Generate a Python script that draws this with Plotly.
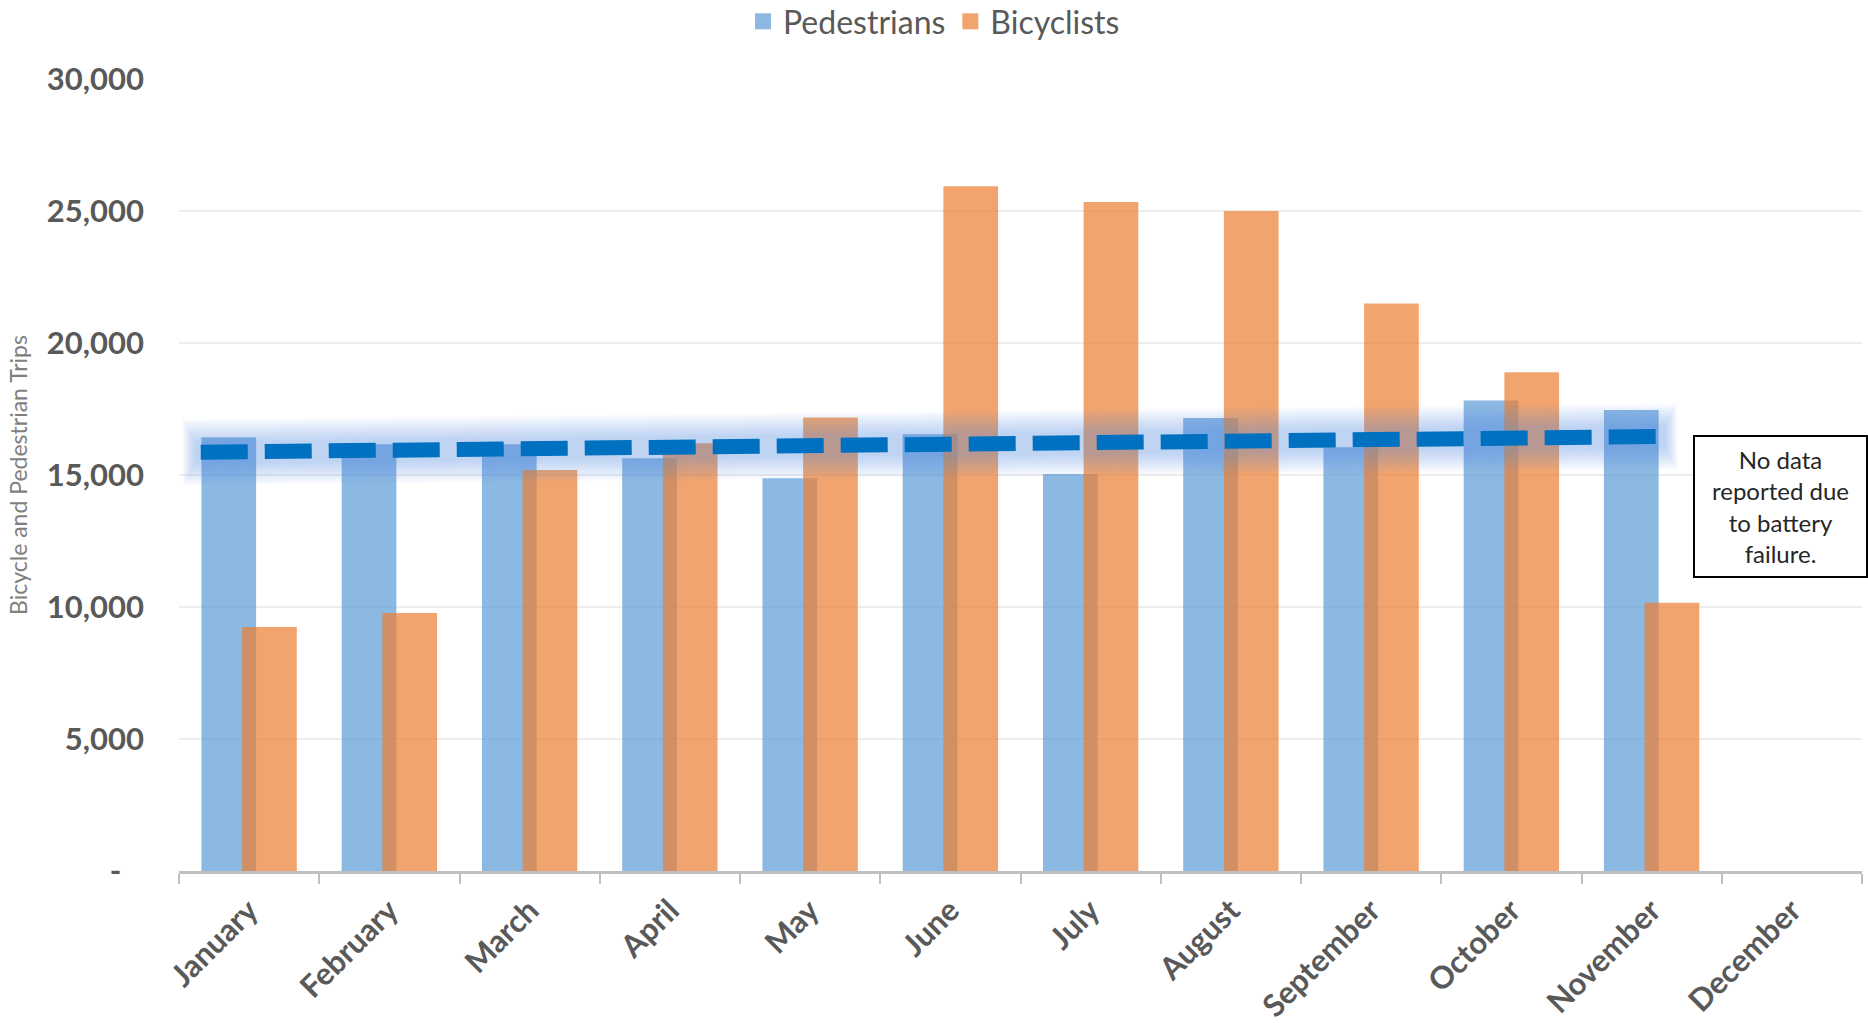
import plotly.graph_objects as go

# Monthly trip counts
months = ["January", "February", "March", "April", "May", "June", "July",
          "August", "September", "October", "November", "December"]
pedestrians = [16433, 16169, 16169, 15631, 14874, 16539, 15038, 17156,
               16047, 17825, 17458, None]
bicyclists = [9240, 9770, 15185, 16199, 17182, 25942, 25337, 24997,
              21494, 18896, 10159, None]

# Linear trend of pedestrian trips: first and last month it covers, and its end values
trend_months = ["January", "November"]
trend_values = [15862, 16456]

y_ticks = [0, 5000, 10000, 15000, 20000, 25000, 30000]
y_tick_text = ["-\u00a0\u00a0\u00a0", "5,000", "10,000", "15,000", "20,000", "25,000", "30,000"]

note_text = "No data<br>reported due<br>to battery<br>failure."

# Styling
FONT = "Lato, 'Century Gothic', sans-serif"
TEXT_GREY = "#595959"
PED_COLOR = "#5B9BD5"
BIKE_COLOR = "#ED7D31"
TREND_COLOR = "#0070C0"
BAR_W = 0.39
PED_OFFSET = -0.34
BIKE_OFFSET = -0.05
TREND_EXT = 0.2      # trend drawn a little past the first and last bar centres
PX_PER_CAT = 140.25  # approximate pixel width of one month slot

fig = go.Figure()

fig.add_trace(go.Bar(
    x=months, y=pedestrians, name="Pedestrians",
    width=BAR_W, offset=PED_OFFSET, showlegend=False,
    marker=dict(color=PED_COLOR, opacity=0.7, line=dict(width=0)),
    hoverinfo="skip",
))
fig.add_trace(go.Bar(
    x=months, y=bicyclists, name="Bicyclists",
    width=BAR_W, offset=BIKE_OFFSET, showlegend=False,
    marker=dict(color=BIKE_COLOR, opacity=0.7, line=dict(width=0)),
    hoverinfo="skip",
))

# Trend line on a hidden numeric axis aligned with the month categories
ped_center = PED_OFFSET + BAR_W / 2
i0 = months.index(trend_months[0])
i1 = months.index(trend_months[1])
tx = [i0 + ped_center - TREND_EXT, i1 + ped_center + TREND_EXT]
slope = (trend_values[1] - trend_values[0]) / (tx[1] - tx[0])

# Soft glow under the dashed line: many faint layers, wider ones reaching further
for w in range(66, 18, -4):
    pad = (w / 2) / PX_PER_CAT * 0.55
    gx = [tx[0] - pad, tx[1] + pad]
    gy = [trend_values[0] - slope * pad, trend_values[1] + slope * pad]
    fig.add_trace(go.Scatter(
        x=gx, y=gy, xaxis="x2", mode="lines",
        line=dict(color="rgba(91,155,213,0.036)", width=w),
        showlegend=False, hoverinfo="skip",
    ))

fig.add_trace(go.Scatter(
    x=tx, y=trend_values, xaxis="x2", mode="lines",
    line=dict(color=TREND_COLOR, width=15, dash="47px,17px"),
    showlegend=False, hoverinfo="skip",
))

# Legend entries with larger square swatches
for name, color in (("Pedestrians", PED_COLOR), ("Bicyclists", BIKE_COLOR)):
    fig.add_trace(go.Scatter(
        x=[None], y=[None], mode="markers", name=name,
        marker=dict(symbol="square", size=17, color=color, opacity=0.7),
        hoverinfo="skip",
    ))

fig.add_annotation(
    text=note_text, xref="paper", yref="paper",
    x=0.9516, y=0.4604, xanchor="center", yanchor="middle",
    showarrow=False, align="center",
    font=dict(family=FONT, size=24, color="#262626"),
    bordercolor="#000000", borderwidth=2, borderpad=3,
    bgcolor="#FFFFFF", width=165, height=133,
)

fig.update_layout(
    width=1868, height=1023,
    margin=dict(l=179, r=6, t=79, b=152, autoexpand=False),
    paper_bgcolor="#FFFFFF", plot_bgcolor="#FFFFFF",
    barmode="overlay",
    font=dict(family=FONT, color=TEXT_GREY),
    legend=dict(
        orientation="h", xref="container", yref="container",
        x=0.5, xanchor="center", y=0.979, yanchor="middle",
        font=dict(family=FONT, size=32, color=TEXT_GREY),
        itemwidth=30, traceorder="normal", itemsizing="trace",
    ),
    xaxis=dict(
        type="category", range=[-0.5, 11.5],
        tickson="boundaries", ticks="outside", ticklen=10, tickwidth=2,
        tickcolor="#BFBFBF", showline=True, linecolor="#BFBFBF", linewidth=3,
        showgrid=False, tickangle=-45, ticklabelstandoff=6,
        tickfont=dict(family=FONT, size=31, color=TEXT_GREY, weight="bold"),
    ),
    xaxis2=dict(
        overlaying="x", range=[-0.5, 11.5], visible=False, type="linear",
    ),
    yaxis=dict(
        range=[0, 30000], tickvals=y_ticks, ticktext=y_tick_text,
        showgrid=True, gridcolor="#EDEDED", gridwidth=1.5,
        zeroline=False, showline=False, ticks="",
        ticklabelstandoff=34,
        tickfont=dict(family=FONT, size=31, color=TEXT_GREY, weight="bold"),
        title=dict(text="Bicycle and Pedestrian Trips", standoff=12,
                   font=dict(family=FONT, size=23, color="#7F7F7F")),
        automargin=False,
    ),
)

fig.write_html("out.html")
